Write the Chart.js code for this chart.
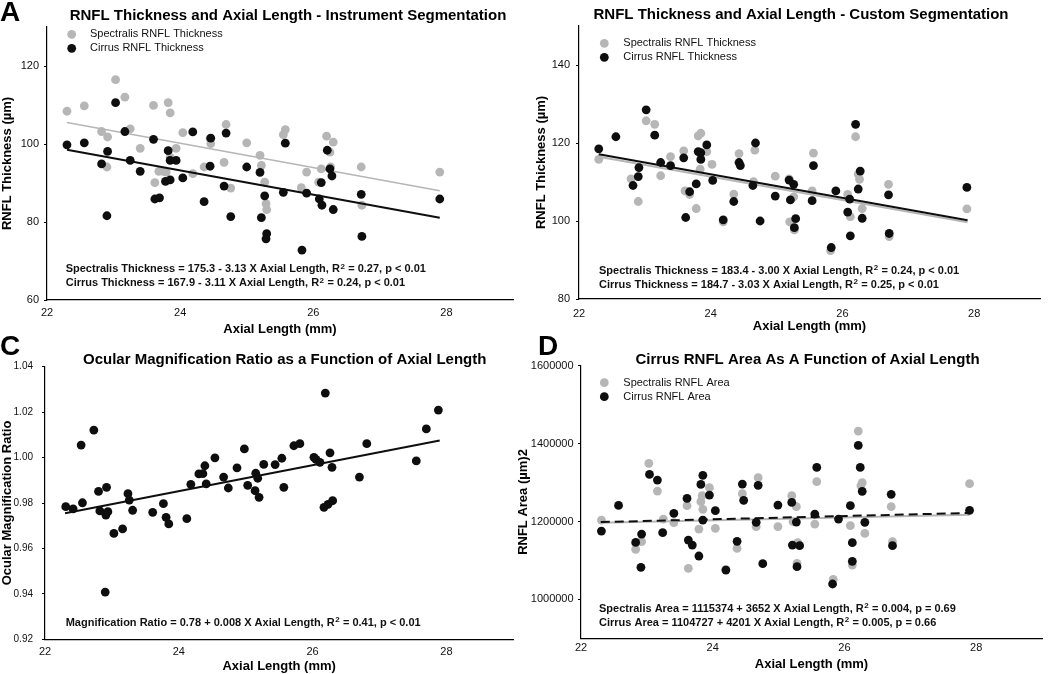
<!DOCTYPE html>
<html>
<head>
<meta charset="utf-8">
<title>RNFL thickness and axial length</title>
<script src="https://cdn.jsdelivr.net/npm/chart.js@4.4.1/dist/chart.umd.min.js"></script>
<style>
  html, body { margin: 0; padding: 0; background: #fff; }
  #fig { position: relative; width: 1050px; height: 674px; overflow: hidden; }
  #fig canvas { position: absolute; }
</style>
</head>
<body>
<div id="fig">
  <canvas id="chartA" width="520" height="337" style="left:0;top:0"></canvas>
  <canvas id="chartB" width="530" height="337" style="left:520px;top:0"></canvas>
  <canvas id="chartC" width="520" height="344" style="left:0;top:330px"></canvas>
  <canvas id="chartD" width="534" height="344" style="left:516px;top:330px"></canvas>
</div>
<script>
const FONT = 'Arial, "Liberation Sans", Helvetica, sans-serif';
const GRAY = '#b6b6b6';
const BLACK = '#0e0e0e';

// shared x axis (axial length, mm)
const X_TICKS = [22, 24, 26, 28];

// ---- Panel A: instrument segmentation ----
const aYTicks = [60, 80, 100, 120];
const aSpectralis = [
  [22.3,108.4],[22.56,109.8],[22.82,103.2],[22.91,101.8],[22.9,94.1],[23.03,116.5],[23.17,112.0],
  [23.25,103.9],[23.4,98.9],[23.6,109.9],[23.62,90.1],[23.68,93.0],[23.75,93.0],[23.79,92.8],
  [23.82,110.6],[23.85,108.0],[23.85,96.6],[23.94,98.9],[24.04,102.9],[24.19,92.4],[24.36,94.1],
  [24.45,101.4],[24.46,100.1],[24.66,95.3],[24.69,105.0],[24.76,88.7],[25.0,100.3],[25.2,97.1],
  [25.22,94.5],[25.27,90.2],[25.29,84.7],[25.3,83.2],[25.55,102.4],[25.58,103.7],[25.82,88.8],
  [25.9,92.8],[26.08,90.2],[26.12,93.6],[26.2,102.0],[26.25,97.9],[26.26,94.1],[26.3,100.5],
  [26.72,94.1],[26.73,84.3],[27.9,92.8]
];
const aCirrus = [
  [22.3,99.8],[22.56,100.3],[22.82,94.9],[22.91,98.1],[22.9,81.6],[23.03,110.6],[23.17,103.2],
  [23.25,95.8],[23.4,93.0],[23.6,101.2],[23.62,85.9],[23.69,86.2],[23.78,90.4],[23.82,98.3],
  [23.85,90.8],[23.85,95.8],[23.94,95.8],[24.04,91.3],[24.19,103.1],[24.36,85.2],[24.45,94.3],
  [24.46,101.5],[24.66,89.2],[24.69,102.8],[24.76,81.4],[25.0,94.1],[25.2,92.7],[25.22,81.1],
  [25.27,86.7],[25.3,77.0],[25.29,75.7],[25.55,87.6],[25.58,100.2],[25.83,72.8],[25.9,87.4],
  [26.09,85.9],[26.13,84.3],[26.12,90.1],[26.21,98.4],[26.25,93.6],[26.28,91.8],[26.3,83.2],
  [26.72,87.1],[26.73,76.3],[27.9,85.9]
];
const aSpectralisFit = [[22.3,105.5],[27.9,88.0]];
const aCirrusFit = [[22.3,98.5],[27.9,81.1]];

// ---- Panel B: custom segmentation ----
const bYTicks = [80, 100, 120, 140];
const bSpectralis = [
  [22.3,115.8],[22.79,110.8],[22.9,105.0],[23.02,125.7],[23.15,124.8],[23.24,111.6],[23.39,116.5],
  [23.59,118.0],[23.61,107.7],[23.68,106.8],[23.78,103.2],[23.81,121.8],[23.85,122.5],[23.84,113.3],
  [23.94,117.8],[24.02,114.5],[24.19,99.8],[24.35,106.9],[24.43,117.3],[24.65,110.1],[24.67,118.2],
  [24.98,111.5],[25.19,110.8],[25.2,99.8],[25.26,106.2],[25.27,97.7],[25.56,117.4],[25.54,107.7],
  [25.82,92.4],[26.08,106.8],[26.12,101.1],[26.2,121.6],[26.24,112.0],[26.26,110.7],[26.3,103.2],
  [26.7,109.4],[26.71,96.0],[27.89,103.1]
];
const bCirrus = [
  [22.3,118.5],[22.56,121.6],[22.82,109.1],[22.91,113.7],[22.9,111.4],[23.02,128.5],[23.15,122.0],
  [23.24,115.0],[23.39,114.2],[23.59,116.2],[23.62,100.9],[23.68,107.5],[23.78,109.5],[23.81,117.8],
  [23.85,117.5],[23.85,115.8],[23.94,119.5],[24.03,110.4],[24.19,100.3],[24.35,105.0],[24.43,115.0],
  [24.45,114.2],[24.64,109.1],[24.68,120.0],[24.75,100.0],[24.98,106.4],[25.19,110.5],[25.21,105.4],
  [25.26,109.4],[25.29,100.6],[25.27,98.3],[25.54,105.2],[25.56,114.2],[25.83,93.2],[25.9,107.7],
  [26.08,102.3],[26.11,105.6],[26.12,96.2],[26.2,124.8],[26.24,108.2],[26.27,112.8],[26.3,100.7],
  [26.7,106.7],[26.71,96.8],[27.89,108.6]
];
const bSpectralisFit = [[22.3,116.5],[27.9,99.7]];
const bCirrusFit = [[22.3,117.1],[27.9,100.2]];

// ---- Panel C: magnification ratio ----
const cYTicks = [0.92, 0.94, 0.96, 0.98, 1.00, 1.02, 1.04];
const cRatio = [
  [22.31,0.9784],[22.42,0.9774],[22.54,1.0055],[22.56,0.9801],[22.73,1.0121],[22.8,0.9851],
  [22.82,0.9765],[22.92,0.9869],[22.91,0.9747],[22.94,0.9762],[22.9,0.9408],[23.03,0.9666],
  [23.16,0.9686],[23.24,0.9841],[23.26,0.9813],[23.31,0.9768],[23.61,0.9759],[23.77,0.9797],
  [23.81,0.9737],[23.85,0.9708],[24.12,0.9731],[24.18,0.9882],[24.3,0.9928],[24.36,0.9929],
  [24.39,0.9964],[24.41,0.9884],[24.54,0.9999],[24.67,0.9914],[24.74,0.9866],[24.87,0.9955],
  [24.98,1.0038],[25.03,0.9878],[25.14,0.9854],[25.15,0.9931],[25.18,0.9909],[25.2,0.9825],
  [25.27,0.9970],[25.44,0.9969],[25.54,0.9997],[25.57,0.9869],[25.72,1.0052],[25.81,1.0061],
  [26.02,1.0001],[26.05,0.9992],[26.11,0.9979],[26.19,1.0284],[26.17,0.9781],[26.23,0.9794],
  [26.26,1.0021],[26.29,0.9957],[26.3,0.9810],[26.7,0.9914],[26.81,1.0061],[27.55,0.9985],
  [27.7,1.0126],[27.88,1.0209]
];
const cRatioFit = [[22.3,0.9755],[27.9,1.0075]];

// ---- Panel D: RNFL area ----
const dYTicks = [1000000, 1200000, 1400000, 1600000];
const dSpectralis = [
  [22.31,1203700],[22.83,1128400],[22.92,1148000],[23.03,1349200],[23.16,1278100],[23.25,1206200],
  [23.41,1196800],[23.61,1240500],[23.63,1079600],[23.79,1180600],[23.82,1250700],[23.84,1266200],
  [23.85,1231100],[23.95,1286700],[24.04,1182300],[24.2,1077000],[24.37,1130900],[24.45,1271300],
  [24.66,1186600],[24.69,1312400],[24.99,1186600],[25.2,1266200],[25.22,1199400],[25.27,1237900],
  [25.28,1092400],[25.29,1145500],[25.55,1193400],[25.58,1302100],[25.83,1051300],[26.09,1189100],
  [26.12,1088100],[26.21,1432200],[26.25,1291800],[26.27,1299500],[26.31,1169400],[26.71,1237900],
  [26.73,1148000],[27.9,1297000]
];
const dCirrus = [
  [22.31,1175400],[22.57,1241300],[22.83,1146300],[22.92,1167700],[22.91,1082200],[23.04,1320900],
  [23.16,1306400],[23.24,1171200],[23.41,1220800],[23.61,1259300],[23.63,1152300],[23.69,1139500],
  [23.79,1111300],[23.82,1295200],[23.85,1318400],[23.85,1203700],[23.95,1267900],[24.04,1227600],
  [24.2,1075300],[24.37,1148900],[24.45,1296100],[24.47,1254200],[24.66,1197700],[24.69,1292700],
  [24.76,1091600],[24.99,1242200],[25.2,1249000],[25.21,1139500],[25.27,1198500],[25.32,1137800],
  [25.28,1083900],[25.55,1219100],[25.58,1338900],[25.82,1039400],[25.91,1206200],[26.09,1240500],
  [26.12,1145500],[26.12,1097600],[26.21,1395400],[26.24,1338900],[26.27,1277300],[26.31,1197700],
  [26.71,1269600],[26.73,1137800],[27.9,1228500]
];
const dSpectralisFit = [[22.3,1196800],[27.9,1217300]];
const dCirrusFit = [[22.3,1198400],[27.9,1221900]];

// ---- text that goes on the panels ( ^2 is drawn as a superscript ) ----
const thicknessLegend = ['Spectralis RNFL Thickness', 'Cirrus RNFL Thickness'];
const areaLegend = ['Spectralis RNFL Area', 'Cirrus RNFL Area'];
const aEquations = [
  'Spectralis Thickness = 175.3 - 3.13 X Axial Length, R^2 = 0.27, p < 0.01',
  'Cirrus Thickness = 167.9 - 3.11 X Axial Length, R^2 = 0.24, p < 0.01'
];
const bEquations = [
  'Spectralis Thickness = 183.4 - 3.00 X Axial Length, R^2 = 0.24, p < 0.01',
  'Cirrus Thickness = 184.7 - 3.03 X Axial Length, R^2 = 0.25, p < 0.01'
];
const cEquations = ['Magnification Ratio = 0.78 + 0.008 X Axial Length, R^2 = 0.41, p < 0.01'];
const dEquations = [
  'Spectralis Area = 1115374 + 3652 X Axial Length, R^2 = 0.004, p = 0.69',
  'Cirrus Area = 1104727 + 4201 X Axial Length, R^2 = 0.005, p = 0.66'
];

const toXY = arr => arr.map(p => ({x: p[0], y: p[1]}));

// text with "^2" -> small raised 2
function drawSup(ctx, txt, x, y) {
  const parts = txt.split('^2');
  parts.forEach((part, i) => {
    ctx.font = 'bold 11px ' + FONT;
    ctx.fillText(part, x, y);
    x += ctx.measureText(part).width;
    if (i < parts.length - 1) {
      ctx.font = 'bold 8px ' + FONT;
      ctx.fillText('2', x + 0.5, y - 2.5);
      x += ctx.measureText('2').width + 0.8;
    }
  });
}

// draws panel letter, title, inline legend and regression equations
const panelText = {
  id: 'panelText',
  afterDraw(chart, args, o) {
    const ctx = chart.ctx;
    ctx.save();
    ctx.fillStyle = '#000';
    ctx.textBaseline = 'alphabetic';
    if (o.letter) {
      ctx.textAlign = 'left';
      ctx.font = 'bold 28px ' + FONT;
      ctx.fillText(o.letter, o.letterX, o.letterY);
    }
    ctx.textAlign = 'center';
    ctx.font = 'bold 15px ' + FONT;
    ctx.fillText(o.title, o.titleX, o.titleY);

    ctx.textAlign = 'left';
    ctx.textBaseline = 'middle';
    if (o.legend) {
      ctx.font = '11px ' + FONT;
      o.legend.forEach((txt, i) => {
        const y = o.legendY + i * 14;
        ctx.fillStyle = i === 0 ? GRAY : BLACK;
        ctx.beginPath();
        ctx.arc(o.legendX, y, 4.4, 0, Math.PI * 2);
        ctx.fill();
        ctx.fillStyle = '#111';
        ctx.fillText(txt, o.legendTextX, y);
      });
    }
    ctx.fillStyle = '#111';
    o.equations.forEach((txt, i) => drawSup(ctx, txt, o.eqX, o.eqY + i * 14));
    ctx.restore();
  }
};

function makeScales(p) {
  return {
    x: {
      type: 'linear', min: 22, max: 29,
      afterBuildTicks: s => { s.ticks = X_TICKS.map(v => ({value: v})); },
      afterFit: s => { s.height = p.xH; },
      grid: {display: true, drawOnChartArea: false, drawTicks: false},
      border: {display: true, color: '#000', width: 1.2},
      ticks: {padding: p.xPad, color: '#111', maxRotation: 0, font: {family: FONT, size: 11}},
      title: {display: true, text: 'Axial Length (mm)', color: '#000', padding: 0,
              font: {family: FONT, size: 13, weight: 'bold'}}
    },
    y: {
      type: 'linear', min: p.yMin, max: p.yMax,
      afterBuildTicks: s => { s.ticks = p.yTicks.map(v => ({value: v})); },
      afterFit: s => { s.width = p.yW; },
      grid: {display: true, drawOnChartArea: false, drawTicks: true, tickLength: 3, color: '#000', lineWidth: 1},
      border: {display: true, color: '#000', width: 1.2},
      ticks: {padding: p.yPad, color: '#111', font: {family: FONT, size: p.yFont || 11}, callback: p.fmt || (v => String(v))},
      title: {display: true, text: p.yTitle, color: '#000', padding: {top: p.yTitlePad || 0, bottom: 0},
              font: {family: FONT, size: 13, weight: 'bold'}}
    }
  };
}

function pointSet(label, data, color, order) {
  return {type: 'scatter', label, data: toXY(data), order,
          backgroundColor: color, pointRadius: 4.4, pointBorderWidth: 0, pointHoverRadius: 4.4};
}
function fitSet(data, color, width, dash, order) {
  return {type: 'line', data: toXY(data), order, showLine: true, borderColor: color,
          borderWidth: width, borderDash: dash || [], pointRadius: 0, fill: false, tension: 0};
}

function makePanel(id, datasets, p, text) {
  return new Chart(document.getElementById(id), {
    type: 'scatter',
    data: {datasets},
    options: {
      responsive: false, animation: false,
      layout: {padding: {left: 0, right: p.padR, top: p.padT, bottom: p.padB}},
      scales: makeScales(p),
      plugins: {legend: {display: false}, tooltip: {enabled: false}, panelText: text}
    },
    plugins: [panelText]
  });
}

makePanel('chartA', [
  pointSet('Cirrus RNFL Thickness', aCirrus, BLACK, 0),
  fitSet(aCirrusFit, BLACK, 2, null, 1),
  fitSet(aSpectralisFit, GRAY, 1.6, null, 2),
  pointSet('Spectralis RNFL Thickness', aSpectralis, GRAY, 3)
], {yMin: 60, yMax: 130, yTicks: aYTicks, yTitle: 'RNFL Thickness (\u00b5m)',
    yW: 47, yPad: 5, xH: 37, xPad: 6, padR: 7, padT: 27, padB: 0},
{letter: 'A', letterX: 0, letterY: 21, title: 'RNFL Thickness and Axial Length - Instrument Segmentation',
 titleX: 288, titleY: 19.5, legend: thicknessLegend, legendX: 71.7, legendY: 34.3, legendTextX: 90,
 equations: aEquations, eqX: 65.7, eqY: 269.3});

makePanel('chartB', [
  pointSet('Cirrus RNFL Thickness', bCirrus, BLACK, 0),
  fitSet(bCirrusFit, BLACK, 2, null, 1),
  fitSet(bSpectralisFit, GRAY, 2, null, 2),
  pointSet('Spectralis RNFL Thickness', bSpectralis, GRAY, 3)
], {yMin: 80, yMax: 150, yTicks: bYTicks, yTitle: 'RNFL Thickness (\u00b5m)', yTitlePad: 14,
    yW: 59, yPad: 6, xH: 35.5, xPad: 8, padR: 10, padT: 26, padB: 2.5},
{letter: '', title: 'RNFL Thickness and Axial Length - Custom Segmentation',
 titleX: 281, titleY: 19, legend: thicknessLegend, legendX: 84.3, legendY: 43.3, legendTextX: 103.3,
 equations: bEquations, eqX: 79, eqY: 270.7});

makePanel('chartC', [
  fitSet(cRatioFit, BLACK, 2, null, 1),
  pointSet('Magnification Ratio', cRatio, BLACK, 0)
], {yMin: 0.92, yMax: 1.04, yTicks: cYTicks, yTitle: 'Ocular Magnification Ratio', fmt: v => v.toFixed(2),
    yW: 45, yPad: 9, yFont: 10, xH: 34.7, xPad: 6, padR: 6.7, padT: 36.7, padB: 0},
{letter: 'C', letterX: 0, letterY: 25, title: 'Ocular Magnification Ratio as a Function of Axial Length',
 titleX: 284.7, titleY: 34, legend: null, equations: cEquations, eqX: 65.7, eqY: 292.7});

makePanel('chartD', [
  fitSet(dCirrusFit, BLACK, 2, [9, 5], 1),
  pointSet('Cirrus RNFL Area', dCirrus, BLACK, 0),
  fitSet(dSpectralisFit, GRAY, 2, null, 2),
  pointSet('Spectralis RNFL Area', dSpectralis, GRAY, 3)
], {yMin: 900000, yMax: 1600000, yTicks: dYTicks, yTitle: 'RNFL Area (\u00b5m)2',
    yW: 65, yPad: 4.4, xH: 33.5, xPad: 3, padR: 8, padT: 35.7, padB: 2.2},
{letter: 'D', letterX: 22, letterY: 25, title: 'Cirrus RNFL Area As A Function of Axial Length',
 titleX: 291.5, titleY: 33.5, legend: areaLegend, legendX: 88.3, legendY: 52.7, legendTextX: 107.3,
 equations: dEquations, eqX: 83, eqY: 278.7});
</script>
</body>
</html>
